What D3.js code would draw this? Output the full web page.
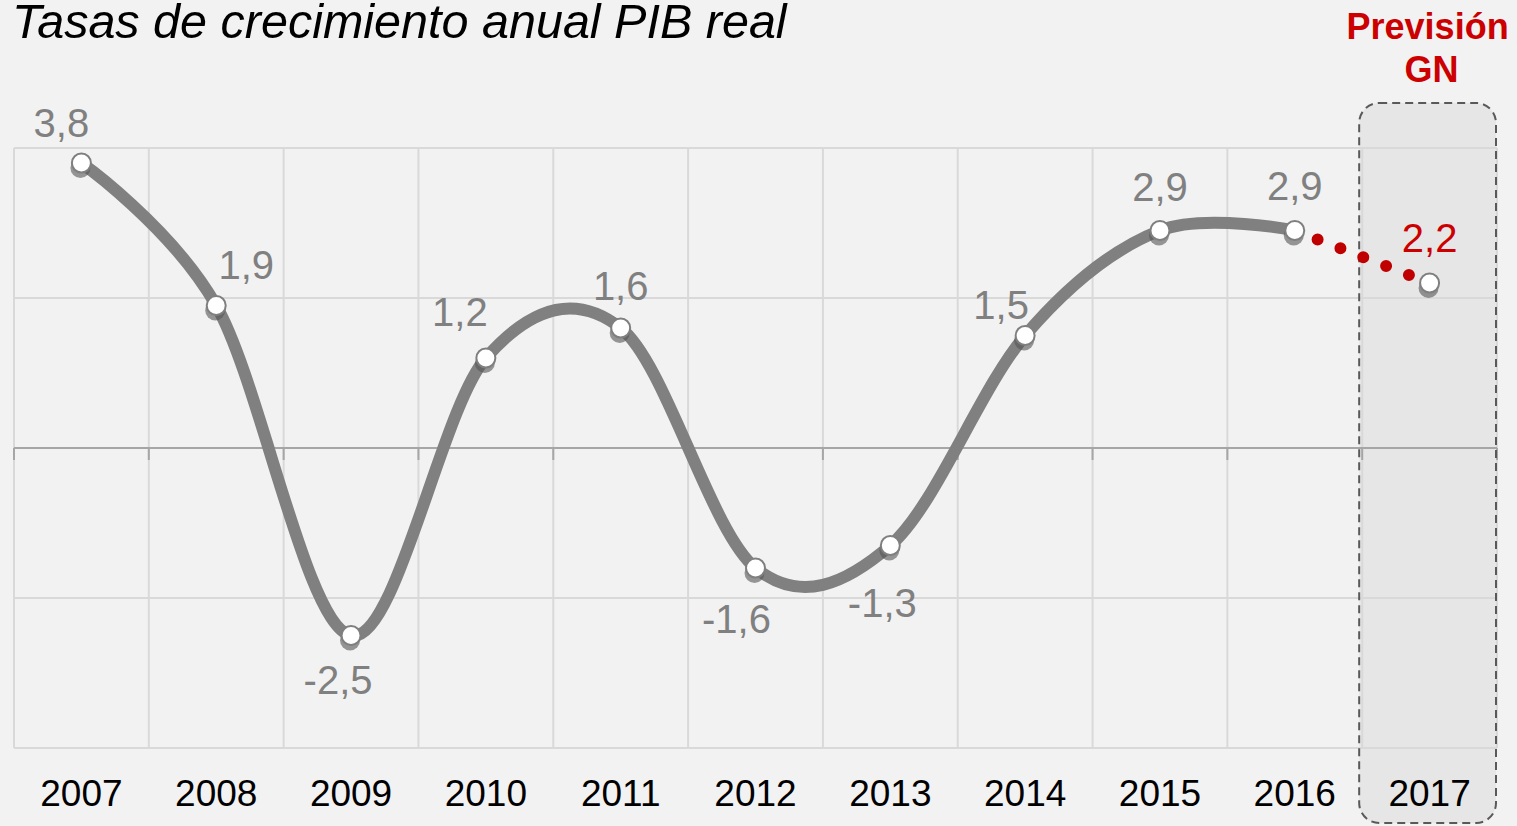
<!DOCTYPE html>
<html>
<head>
  <title>Tasas de crecimiento anual PIB real</title>
  <script src="https://d3js.org/d3.v7.min.js"></script>
  <style>
    body {
      margin: 0;
      padding: 0;
      overflow: hidden;
      background-color: #f2f2f2;
    }
    svg {
      display: block;
      font-family: "Liberation Sans", Arial, sans-serif;
    }
  </style>
</head>
<body>
  <svg width="1517" height="826"></svg>

  <script>
    // data
    const years = ["2007", "2008", "2009", "2010", "2011", "2012", "2013", "2014", "2015", "2016", "2017"];
    const growth = [3.8, 1.9, -2.5, 1.2, 1.6, -1.6, -1.3, 1.5, 2.9, 2.9, 2.2];
    const labels = ["3,8", "1,9", "-2,5", "1,2", "1,6", "-1,6", "-1,3", "1,5", "2,9", "2,9", "2,2"];
    const yTicks = [-4, -2, 0, 2, 4];
    const forecastYear = "2017";

    // where each value label sits relative to its point
    const labelShift = [[-20, -26], [30, -27], [-13, 58], [-26, -32], [0, -28], [-19, 65],
                        [-8, 71], [-24, -17], [0, -30], [0, -31], [0, -31]];

    const data = years.map((y, i) => ({ year: y, value: growth[i], label: labels[i] }));

    const svg = d3.select("svg");
    const plotLeft = 14, plotRight = 1497, plotTop = 148, plotBottom = 748;

    const x = d3.scaleBand().domain(years).range([plotLeft, plotRight]).padding(0);
    const y = d3.scaleLinear().domain([-4, 4]).range([plotBottom, plotTop]);
    const cx = d => x(d.year) + x.bandwidth() / 2;

    svg.append("rect")
      .attr("width", 1517).attr("height", 826)
      .attr("fill", "#f2f2f2");

    // forecast box (fill under the grid)
    const bx = x(forecastYear) - 3, bw = x.bandwidth() + 2;
    svg.append("rect")
      .attr("x", bx).attr("y", 103)
      .attr("width", bw).attr("height", 720)
      .attr("rx", 20).attr("ry", 20)
      .attr("fill", "#e6e6e6");

    // grid
    const grid = svg.append("g");
    const bounds = years.map(d => x(d)).concat([plotRight]);
    grid.selectAll(".v")
      .data(bounds)
      .enter().append("line")
        .attr("x1", d => d).attr("x2", d => d)
        .attr("y1", plotTop).attr("y2", plotBottom)
        .attr("stroke", "#d9d9d9").attr("stroke-width", 2);
    grid.selectAll(".h")
      .data(yTicks.filter(t => t !== 0))
      .enter().append("line")
        .attr("x1", plotLeft).attr("x2", plotRight)
        .attr("y1", d => y(d)).attr("y2", d => y(d))
        .attr("stroke", "#d9d9d9").attr("stroke-width", 2);

    // zero axis with small ticks
    grid.append("line")
      .attr("x1", plotLeft).attr("x2", plotRight)
      .attr("y1", y(0)).attr("y2", y(0))
      .attr("stroke", "#a6a6a6").attr("stroke-width", 2);
    grid.selectAll(".tk")
      .data(bounds)
      .enter().append("line")
        .attr("x1", d => d).attr("x2", d => d)
        .attr("y1", y(0)).attr("y2", y(0) + 12)
        .attr("stroke", "#a6a6a6").attr("stroke-width", 2);

    // dashed outline of the forecast box
    svg.append("rect")
      .attr("x", bx).attr("y", 103)
      .attr("width", bw).attr("height", 720)
      .attr("rx", 20).attr("ry", 20)
      .attr("fill", "none")
      .attr("stroke", "#595959").attr("stroke-width", 2)
      .attr("stroke-dasharray", "8 5");

    // year labels
    const xAxis = svg.append("g")
        .attr("transform", "translate(0," + plotBottom + ")")
        .call(d3.axisBottom(x).tickSize(0).tickPadding(32));
    xAxis.select(".domain").remove();
    xAxis.selectAll("text")
        .attr("font-family", "'Liberation Sans', Arial, sans-serif")
        .attr("font-size", "37px")
        .attr("fill", "#000");

    // smoothed real series
    const actual = data.slice(0, years.length - 1);
    const line = d3.line()
        .x(cx)
        .y(d => y(d.value))
        .curve(d3.curveCardinal.tension(0));

    svg.append("path")
      .datum(actual)
      .attr("d", line)
      .attr("fill", "none")
      .attr("stroke", "#808080")
      .attr("stroke-width", 12)
      .attr("stroke-linecap", "round");

    // forecast dotted segment
    const fc = data.slice(years.length - 2);
    svg.append("path")
      .datum(fc)
      .attr("d", d3.line().x(cx).y(d => y(d.value)))
      .attr("fill", "none")
      .attr("stroke", "#c00000")
      .attr("stroke-width", 12)
      .attr("stroke-linecap", "round")
      .attr("stroke-dasharray", "0 24.5");

    // markers
    svg.selectAll(".shadow")
      .data(data)
      .enter().append("circle")
        .attr("cx", d => cx(d) - 1)
        .attr("cy", d => y(d.value) + 5)
        .attr("r", 10)
        .attr("fill", "#555")
        .attr("opacity", 0.6);
    svg.selectAll(".marker")
      .data(data)
      .enter().append("circle")
        .attr("cx", cx)
        .attr("cy", d => y(d.value))
        .attr("r", 9.5)
        .attr("fill", "#ffffff")
        .attr("stroke", "#7f7f7f")
        .attr("stroke-width", 2);

    // value labels
    svg.selectAll(".label")
      .data(data)
      .enter().append("text")
        .attr("x", (d, i) => cx(d) + labelShift[i][0])
        .attr("y", (d, i) => y(d.value) + labelShift[i][1])
        .attr("text-anchor", "middle")
        .attr("font-size", "40px")
        .attr("fill", d => d.year === forecastYear ? "#cc0000" : "#808080")
        .text(d => d.label);

    // titles
    svg.append("text")
      .attr("x", 12).attr("y", 38)
      .attr("font-size", "48.5px")
      .attr("font-style", "italic")
      .attr("fill", "#000")
      .text("Tasas de crecimiento anual PIB real");

    const fx = cx(data[data.length - 1]);
    svg.append("text")
      .attr("x", fx - 2).attr("y", 39)
      .attr("text-anchor", "middle")
      .attr("font-size", "36px")
      .attr("font-weight", "bold")
      .attr("fill", "#cc0000")
      .text("Previsión");
    svg.append("text")
      .attr("x", fx + 2).attr("y", 82)
      .attr("text-anchor", "middle")
      .attr("font-size", "36px")
      .attr("font-weight", "bold")
      .attr("fill", "#cc0000")
      .text("GN");
  </script>
</body>
</html>
